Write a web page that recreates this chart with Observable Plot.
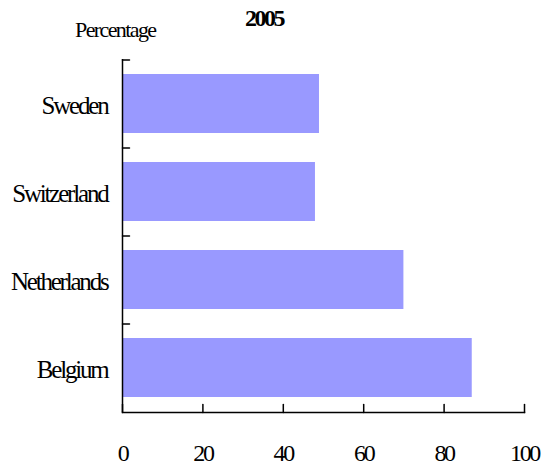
<!DOCTYPE html>
<html>
<head>
<meta charset="utf-8">
<script src="https://cdn.jsdelivr.net/npm/d3@7"></script>
<script src="https://cdn.jsdelivr.net/npm/@observablehq/plot@0.6"></script>
<style>
  html, body { margin: 0; padding: 0; background: #fff; }
  #wrap { width: 548px; font-family: "Liberation Serif", "Times New Roman", serif; color: #000; }
  #head { position: relative; height: 44px; }
  #title { position: absolute; left: 0; width: 528px; top: 6px; text-align: center; font-size: 24px; line-height: 24px; font-weight: bold; letter-spacing: -2.5px; }
  #ylab { position: absolute; left: 75px; top: 19px; font-size: 22px; line-height: 22px; letter-spacing: -1.6px; }
  g[aria-label="y-axis tick label"] { letter-spacing: -2.2px; }
  g[aria-label="x-axis tick label"] { letter-spacing: -2.3px; }
</style>
</head>
<body>
<div id="wrap">
  <div id="head"><div id="title"></div><div id="ylab"></div></div>
  <div id="chart"></div>
</div>
<script>
const title = "2005";
const yLabel = "Percentage";
const countries = ["Sweden", "Switzerland", "Netherlands", "Belgium"];
const values = [49, 48, 70, 87];
const xTicks = [0, 20, 40, 60, 80, 100];

document.getElementById("title").textContent = title;
document.getElementById("ylab").textContent = yLabel;

const data = countries.map((c, i) => ({country: c, value: values[i]}));

const W = 548, H = 422, mt = 15, mb = 54, ml = 122, mr = 24;
const pIn = 1 / 3, pOut = 1 / 6;
const step = (H - mt - mb) / (countries.length - pIn + 2 * pOut);
const lineShape = {draw(context, l) { context.moveTo(0, 0); context.lineTo(0, -l); }};

const chart = Plot.plot({
  width: W, height: H,
  marginTop: mt, marginBottom: mb, marginLeft: ml, marginRight: mr,
  style: {fontFamily: "'Liberation Serif', 'Times New Roman', serif", fontSize: "24px", color: "#000", background: "#fff"},
  x: {domain: [0, 100], label: null},
  y: {domain: countries, paddingInner: pIn, paddingOuter: pOut, label: null},
  marks: [
    Plot.barX(data, {x: "value", y: "country", fill: "#9999ff"}),
    Plot.ruleX([0], {stroke: "#000", strokeWidth: 1.5}),
    Plot.frame({anchor: "bottom", stroke: "#000", strokeWidth: 1.5}),
    Plot.vector(xTicks, {x: d => d, frameAnchor: "bottom", length: 8, rotate: 0, anchor: "start", shape: lineShape, stroke: "#000", strokeWidth: 1.5, fill: "none"}),
    Plot.vector(countries, {y: d => d, frameAnchor: "left", length: 7, rotate: 90, anchor: "start", shape: lineShape, stroke: "#000", strokeWidth: 1.5, fill: "none", dy: -step / 2}),
    Plot.axisX(xTicks, {tickSize: 0, tickPadding: 31, fontSize: 24, label: null}),
    Plot.axisY({tickSize: 0, tickPadding: 15, fontSize: 25, dy: 2, label: null})
  ]
});
document.getElementById("chart").appendChild(chart);
</script>
</body>
</html>
